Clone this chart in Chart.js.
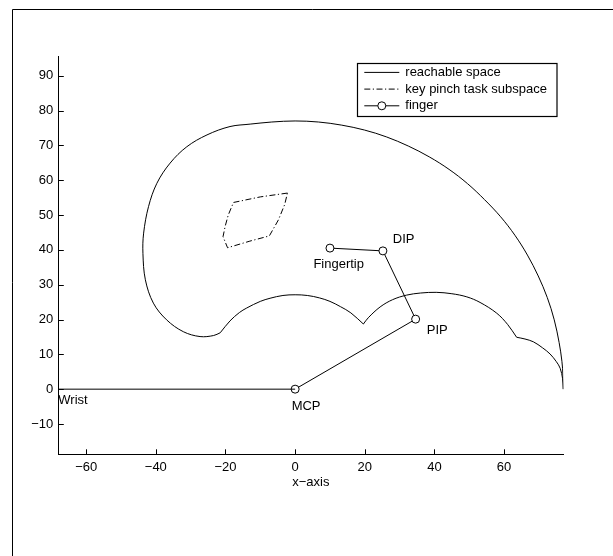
<!DOCTYPE html>
<html>
<head>
<meta charset="utf-8">
<script src="https://cdn.jsdelivr.net/npm/chart.js@4.4.0/dist/chart.umd.min.js"></script>
<style>
  html, body { margin: 0; padding: 0; background: #ffffff; }
  #wrap { width: 613px; height: 556px; }
</style>
</head>
<body>
<div id="wrap"><canvas id="c" width="613" height="556"></canvas></div>
<script>
// ---- data (reachable-space boundary, in pieces) ----
const outerArcX = [77, 76.9, 76.6, 75.8, 74.4, 72.4, 69.8, 66.7, 63.1, 59.0, 54.4, 49.5, 44.2, 38.5, 32.5, 26.3, 19.9, 13.4, 6.7, 0, -6.7, -12.9];
const outerArcY = [0, 4.0, 8.0, 13.4, 19.9, 26.3, 32.5, 38.5, 44.2, 49.5, 54.4, 59.0, 63.1, 66.7, 69.8, 72.4, 74.4, 75.8, 76.7, 77, 76.7, 76.1];

const leftArcX = [-12.9, -18.7, -25.3, -31.1, -35.9, -39.7, -42.1, -43.5, -43.7, -43.0, -40.7, -36.9, -32.1, -27.3, -23.4, -21.5];
const leftArcY = [76.1, 75.4, 73.0, 69.6, 64.9, 59.1, 52.4, 44.8, 39.0, 31.4, 24.7, 19.9, 16.5, 15.1, 15.4, 16.2];

const innerArc1X = [-21.5, -18.7, -16, -13.9, -10, -7.2, -3.5, 0, 3.5, 7, 10, 13, 16, 19.6];
const innerArc1Y = [16.2, 19.6, 22.0, 23.3, 25.2, 26.1, 26.9, 27.1, 26.9, 26.2, 25.2, 23.7, 21.9, 18.7];

const innerArc2X = [19.6, 21, 24.4, 28, 32, 36, 40.5, 45, 49.3, 53.1, 57.9, 61, 63.6];
const innerArc2Y = [18.7, 20.5, 23.6, 25.7, 27.0, 27.6, 27.8, 27.4, 26.5, 24.9, 21.8, 18.6, 14.9];

const innerArc3X = [63.6, 66, 68.4, 71, 73.2, 75, 76.1, 76.8, 77];
const innerArc3Y = [14.9, 14.4, 13.6, 11.9, 10.1, 7.9, 6.0, 3.0, 0];

const pinchX = [-2.2, -10, -17.7, -19.2, -20.1, -20.7, -19.4, -13, -7.4, -4.8, -3.0, -2.2];
const pinchY = [56.3, 55.2, 53.6, 50.0, 46.7, 43.8, 40.6, 42.5, 44.0, 48.6, 53.0, 56.3];

const fingerX = [10, 25.2, 34.6, 0];
const fingerY = [40.5, 39.7, 20.1, 0];

const wristX = [-68, 0];
const wristY = [0, 0];

const xTicks = [-60, -40, -20, 0, 20, 40, 60];
const yTicks = [-10, 0, 10, 20, 30, 40, 50, 60, 70, 80, 90];

const labelText = ['Wrist', 'MCP', 'PIP', 'DIP', 'Fingertip'];
const labelX = [-68, -1.0, 37.8, 28.05, 5.25];
const labelY = [-3.3, -5.0, 17.0, 42.85, 35.8];

const legendNames = ['reachable space', 'key pinch task subspace', 'finger'];
const xTitle = 'x\u2212axis';

// ---- helpers ----
const pts = (xs, ys) => xs.map((x, i) => ({ x: x, y: ys[i] }));
const FONT = '"Liberation Sans", Arial, Helvetica, sans-serif';
const minusFmt = v => String(v).replace('-', '\u2212');
const DASHDOT = [6, 2.5, 1.2, 2.5];

const reachPieces = [[outerArcX, outerArcY], [leftArcX, leftArcY], [innerArc1X, innerArc1Y], [innerArc2X, innerArc2Y], [innerArc3X, innerArc3Y]];

const framePlugin = {
  id: 'frame',
  beforeDraw(chart) {
    const ctx = chart.ctx;
    ctx.save();
    ctx.fillStyle = '#ffffff';
    ctx.fillRect(0, 0, chart.width, chart.height);
    ctx.strokeStyle = '#000000';
    ctx.lineWidth = 1;
    ctx.beginPath();
    ctx.moveTo(12.5, chart.height);
    ctx.lineTo(12.5, 9.5);
    ctx.lineTo(chart.width, 9.5);
    ctx.stroke();
    ctx.restore();
  }
};

const decoPlugin = {
  id: 'deco',
  afterDraw(chart) {
    const ctx = chart.ctx;
    const xs = chart.scales.x, ys = chart.scales.y;
    const a = chart.chartArea;
    ctx.save();
    // inward tick marks
    ctx.strokeStyle = '#000';
    ctx.lineWidth = 1;
    ctx.beginPath();
    xTicks.forEach(v => {
      const p = Math.round(xs.getPixelForValue(v)) + 0.5;
      ctx.moveTo(p, a.bottom);
      ctx.lineTo(p, a.bottom - 5);
    });
    yTicks.forEach(v => {
      const p = Math.round(ys.getPixelForValue(v)) + 0.5;
      ctx.moveTo(a.left, p);
      ctx.lineTo(a.left + 5.5, p);
    });
    ctx.stroke();

    // point labels
    ctx.fillStyle = '#000';
    ctx.font = '13px ' + FONT;
    ctx.textAlign = 'left';
    ctx.textBaseline = 'middle';
    labelText.forEach((t, i) => {
      ctx.fillText(t, xs.getPixelForValue(labelX[i]), ys.getPixelForValue(labelY[i]));
    });

    // legend box
    const bx = a.right - 206, by = a.top + 6, bw = 199.5, bh = 53;
    ctx.fillStyle = '#fff';
    ctx.fillRect(bx, by, bw, bh);
    ctx.strokeStyle = '#000';
    ctx.lineWidth = 1.2;
    ctx.strokeRect(Math.round(bx) + 0.5, Math.round(by) + 0.5, bw, bh);
    const rows = [by + 9.7, by + 26.4, by + 43.1];
    const lx0 = bx + 7, lx1 = bx + 42, tx = bx + 48;
    ctx.lineWidth = 1;
    rows.forEach((ry, i) => {
      ctx.beginPath();
      ctx.setLineDash(i === 1 ? DASHDOT : []);
      ctx.moveTo(lx0, ry);
      ctx.lineTo(lx1, ry);
      ctx.stroke();
      ctx.setLineDash([]);
      if (i === 2) {
        ctx.beginPath();
        ctx.fillStyle = '#fff';
        ctx.arc((lx0 + lx1) / 2, ry, 4, 0, Math.PI * 2);
        ctx.fill();
        ctx.stroke();
      }
      ctx.fillStyle = '#000';
      ctx.fillText(legendNames[i], tx, ry);
    });
    ctx.restore();
  }
};

const reachSets = reachPieces.map((p, i) => ({
  label: i === 0 ? legendNames[0] : legendNames[0] + ' ' + i,
  data: pts(p[0], p[1]), showLine: true, borderColor: '#000', borderWidth: 1,
  pointRadius: 0, tension: 0.35, fill: false
}));

new Chart(document.getElementById('c'), {
  type: 'scatter',
  data: {
    datasets: reachSets.concat([
      { label: legendNames[1], data: pts(pinchX, pinchY), showLine: true, borderColor: '#000', borderWidth: 1,
        borderDash: DASHDOT, pointRadius: 0, tension: 0, fill: false },
      { label: 'wrist', data: pts(wristX, wristY), showLine: true, borderColor: '#000', borderWidth: 1,
        pointRadius: 0, tension: 0, fill: false },
      { label: legendNames[2], data: pts(fingerX, fingerY), showLine: true, borderColor: '#000', borderWidth: 1,
        pointRadius: 4, pointBorderWidth: 1, pointBorderColor: '#000', pointBackgroundColor: '#fff',
        pointStyle: 'circle', tension: 0, fill: false }
    ])
  },
  options: {
    responsive: false,
    animation: false,
    events: [],
    layout: { padding: { top: 56.7, right: 49.7, left: 0, bottom: 0 } },
    plugins: { legend: { display: false }, tooltip: { enabled: false }, title: { display: false } },
    scales: {
      x: {
        type: 'linear', position: 'bottom', min: -68, max: 77,
        afterBuildTicks: s => { s.ticks = xTicks.map(v => ({ value: v })); },
        afterFit: s => { s.height = 101.7; },
        grid: { display: true, drawOnChartArea: false, drawTicks: false },
        border: { display: true, color: '#000', width: 1 },
        ticks: { color: '#000', padding: 5, maxRotation: 0, autoSkip: false,
          font: { family: FONT, size: 13 }, callback: v => minusFmt(v) },
        title: { display: true, text: xTitle, color: '#000', font: { family: FONT, size: 13 },
          padding: { top: 0, bottom: 66 } }
      },
      y: {
        type: 'linear', position: 'left', min: -18.7, max: 95.45,
        afterBuildTicks: s => { s.ticks = yTicks.map(v => ({ value: v })); },
        afterFit: s => { s.width = 58.3; },
        grid: { display: true, drawOnChartArea: false, drawTicks: false },
        border: { display: true, color: '#000', width: 1 },
        ticks: { color: '#000', padding: 5, autoSkip: false,
          font: { family: FONT, size: 13 }, callback: v => minusFmt(v) }
      }
    }
  },
  plugins: [framePlugin, decoPlugin]
});
</script>
</body>
</html>
